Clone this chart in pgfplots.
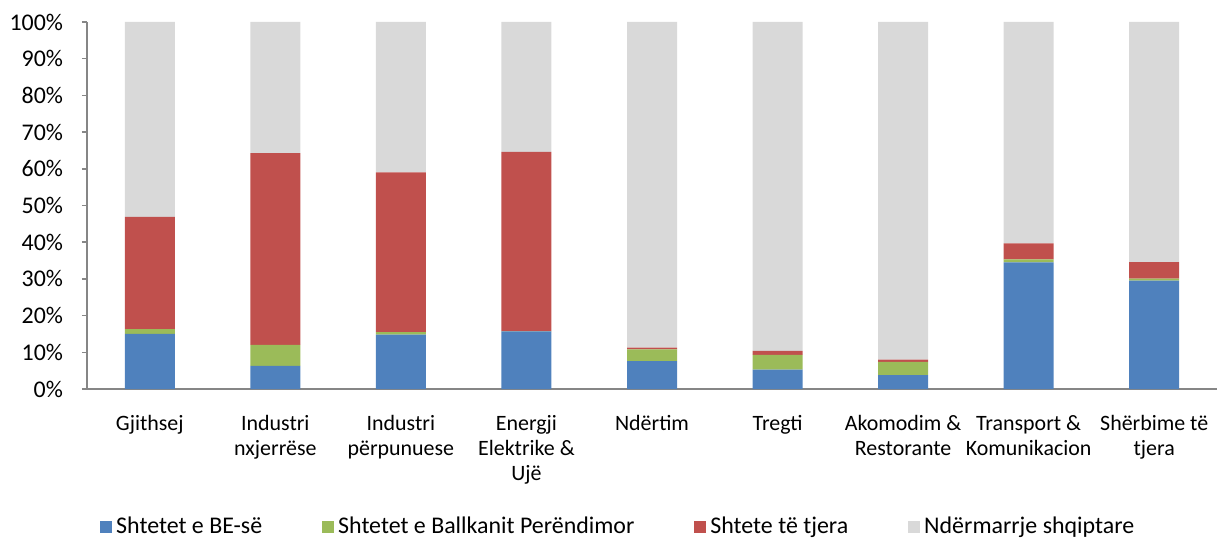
\documentclass[border=0pt]{standalone}
\usepackage{fontspec}
\setmainfont{Carlito}
\usepackage{pgfplots}
\pgfplotsset{compat=1.18}
\definecolor{cblue}{HTML}{4F81BD}
\definecolor{cgreen}{HTML}{9BBB59}
\definecolor{cred}{HTML}{C0504D}
\definecolor{cgray}{HTML}{D9D9D9}
\definecolor{axgray}{HTML}{868686}
\begin{document}
\begin{tikzpicture}
\useasboundingbox (-43.5bp,-75bp) rectangle (565bp,194.5bp);
\begin{axis}[
  scale only axis,
  width=565bp, height=183.5bp,
  ybar stacked, bar width=25bp,
  xmin=-0.5, xmax=8.5, ymin=0, ymax=100,
  axis x line*=bottom, axis y line*=left,
  axis line style={axgray, line width=0.8pt},
  ytick={0,10,...,100},
  yticklabel={\pgfmathprintnumber{\tick}\%},
  /pgf/number format/assume math mode=true,
  tick align=outside,
  major tick length=2.5bp,
  y tick style={axgray, line width=0.8pt},
  xtick={0,...,8},
  x tick style={draw=none},
  extra x ticks={-0.5,0.5,...,8.5},
  extra x tick labels={},
  extra x tick style={tick style={axgray, line width=0.8pt}, major tick length=3bp},
  xticklabels={{Gjithsej},{Industri\\nxjerrëse},{Industri\\përpunuese},{Energji\\Elektrike \&\\Ujë},{Ndërtim},{Tregti},{Akomodim \&\\Restorante},{Transport \&\\Komunikacion},{Shërbime të\\tjera}},
  xticklabel style={align=center, font=\fontsize{11}{12.75}\selectfont, yshift=-7bp},
  yticklabel style={font=\fontsize{12}{14}\selectfont, xshift=-6bp},
  legend style={at={(rel axis cs:0.471,0)}, yshift=-69bp, anchor=center, draw=none, font=\fontsize{12}{14}\selectfont, legend columns=4, /tikz/every even column/.append style={column sep=28bp}},
  legend image code/.code={\fill[#1] (0bp,-3bp) rectangle (6bp,3bp);},
  legend cell align=left,
]
\addplot[fill=cblue, draw=none] coordinates {(0,15.0) (1,6.3) (2,14.8) (3,15.7) (4,7.6) (5,5.3) (6,3.8) (7,34.5) (8,29.5)};
\addplot[fill=cgreen, draw=none] coordinates {(0,1.3) (1,5.7) (2,0.7) (3,0.1) (4,3.2) (5,4.0) (6,3.6) (7,0.8) (8,0.6)};
\addplot[fill=cred, draw=none] coordinates {(0,30.6) (1,52.3) (2,43.5) (3,48.8) (4,0.5) (5,1.1) (6,0.6) (7,4.4) (8,4.5)};
\addplot[fill=cgray, draw=none] coordinates {(0,53.1) (1,35.7) (2,41.0) (3,35.4) (4,88.7) (5,89.6) (6,92.0) (7,60.3) (8,65.4)};
\legend{Shtetet e BE-së, Shtetet e Ballkanit Perëndimor, Shtete të tjera, Ndërmarrje shqiptare}
\end{axis}
\end{tikzpicture}
\end{document}
